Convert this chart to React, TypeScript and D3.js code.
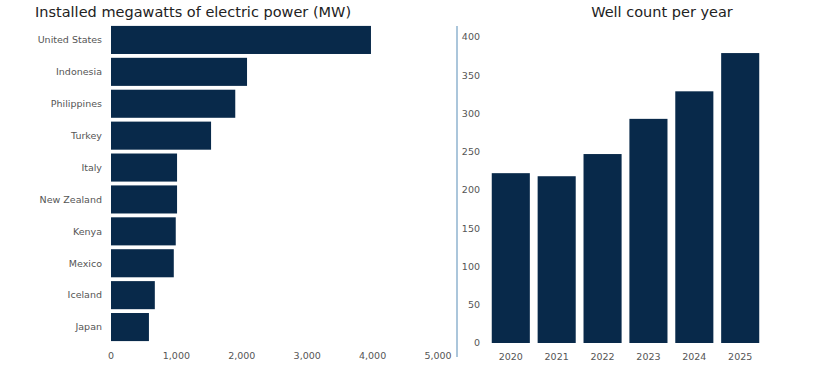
import React, { useEffect, useRef } from 'react';
import * as d3 from 'd3';

// Left chart: installed geothermal capacity by country (MW)
const countries = ['United States', 'Indonesia', 'Philippines', 'Turkey', 'Italy', 'New Zealand', 'Kenya', 'Mexico', 'Iceland', 'Japan'];
const megawatts = [3975, 2080, 1900, 1530, 1010, 1010, 990, 960, 670, 580];
const mwTicks = [0, 1000, 2000, 3000, 4000, 5000];

// Right chart: well count per year
const years = ['2020', '2021', '2022', '2023', '2024', '2025'];
const wells = [222, 218, 247, 293, 329, 379];
const wellTicks = [0, 50, 100, 150, 200, 250, 300, 350, 400];

const BAR = '#08294a';
const LABEL = '#555555';
const FONT = '"DejaVu Sans", Verdana, sans-serif';

const App = () => {
  const svgRef = useRef<SVGSVGElement>(null);

  useEffect(() => {
    const svg = d3.select(svgRef.current);
    svg.selectAll('*').remove();
    svg.style('font-family', FONT);

    // ---- left: horizontal bars
    const x = d3.scaleLinear().domain([0, 5000]).range([111, 438]);
    const y = d3.scaleBand().domain(countries).range([24, 343]).paddingInner(0.12).paddingOuter(0.06);

    svg.append('text')
      .attr('x', 35).attr('y', 17)
      .attr('font-size', 14.5).attr('fill', '#222')
      .text('Installed megawatts of electric power (MW)');

    svg.append('g')
      .selectAll('rect')
      .data(countries)
      .join('rect')
      .attr('x', x(0))
      .attr('y', d => y(d)!)
      .attr('width', (d, i) => x(megawatts[i]) - x(0))
      .attr('height', y.bandwidth())
      .attr('fill', BAR);

    svg.append('g')
      .selectAll('text')
      .data(countries)
      .join('text')
      .attr('x', 102)
      .attr('y', d => y(d)! + y.bandwidth() / 2)
      .attr('dy', '0.35em')
      .attr('text-anchor', 'end')
      .attr('font-size', 9.5)
      .attr('fill', LABEL)
      .text(d => d);

    svg.append('g')
      .selectAll('text')
      .data(mwTicks)
      .join('text')
      .attr('x', d => x(d))
      .attr('y', 359)
      .attr('text-anchor', 'middle')
      .attr('font-size', 9.5)
      .attr('fill', LABEL)
      .text(d => d3.format(',')(d));

    svg.append('text')
      .attr('x', 35).attr('y', 379)
      .attr('font-size', 11).attr('font-weight', 'bold').attr('fill', '#222')
      .text('Source: Rystad Energy Well Analytics');

    // ---- right: vertical bars
    const xb = d3.scaleBand().domain(years).range([489, 762]).paddingInner(0.17).paddingOuter(0.06);
    const yb = d3.scaleLinear().domain([0, 400]).range([343, 37]);

    svg.append('line')
      .attr('x1', 457).attr('x2', 457)
      .attr('y1', 26).attr('y2', 357)
      .attr('stroke', '#8fb3cf').attr('stroke-width', 1.5);

    svg.append('text')
      .attr('x', 662).attr('y', 17)
      .attr('text-anchor', 'middle')
      .attr('font-size', 14.5).attr('fill', '#222')
      .text('Well count per year');

    svg.append('g')
      .selectAll('text')
      .data(wellTicks)
      .join('text')
      .attr('x', 480)
      .attr('y', d => yb(d))
      .attr('dy', '0.35em')
      .attr('text-anchor', 'end')
      .attr('font-size', 9.5)
      .attr('fill', LABEL)
      .text(d => d);

    svg.append('g')
      .selectAll('rect')
      .data(years)
      .join('rect')
      .attr('x', d => xb(d)!)
      .attr('y', (d, i) => yb(wells[i]))
      .attr('width', xb.bandwidth())
      .attr('height', (d, i) => yb(0) - yb(wells[i]))
      .attr('fill', BAR);

    svg.append('g')
      .selectAll('text')
      .data(years)
      .join('text')
      .attr('x', d => xb(d)! + xb.bandwidth() / 2)
      .attr('y', 360)
      .attr('text-anchor', 'middle')
      .attr('font-size', 9.5)
      .attr('fill', LABEL)
      .text(d => d);
  }, []);

  return (
    <svg
      ref={svgRef}
      width={816}
      height={371}
      style={{ position: 'absolute', left: 0, top: 0, background: '#fff' }}
    />
  );
};

export default App;
